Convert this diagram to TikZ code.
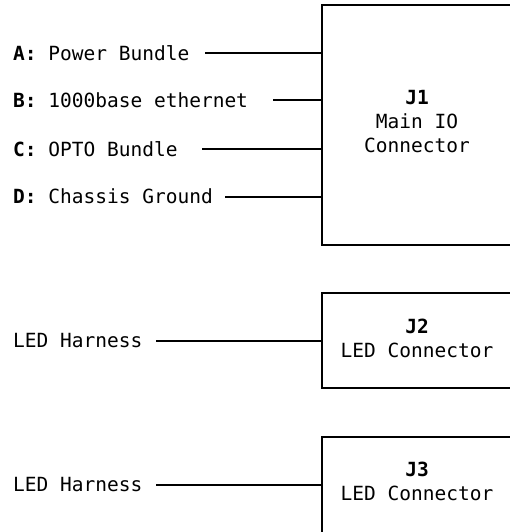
\documentclass[tikz,border=0pt]{standalone}
\usepackage{fontspec}
\setmonofont{DejaVu Sans Mono}
\begin{document}
\begin{tikzpicture}[x=1pt,y=-1pt,
  lbl/.style={anchor=west,inner sep=0pt,font=\ttfamily\fontsize{19.5}{24}\selectfont},
  ctext/.style={align=center,inner sep=0pt,font=\ttfamily\fontsize{19.5}{24}\selectfont},
  conn/.style={draw,line width=2.2pt,minimum width=190pt,inner sep=0pt},
  wire/.style={line width=2.2pt}]
\useasboundingbox (0,0) rectangle (510,532);
\clip (0,0) rectangle (510,532);
\fill[white] (0,0) rectangle (510,532);
% boxes
\node[conn,minimum height=240pt] (j1) at (417,125) {};
\node[conn,minimum height=95pt] (j2) at (417,340.5) {};
\node[conn,minimum height=105pt] (j3) at (417,489.5) {};
% box texts
\node[ctext] (j1t) at (417,122) {\textbf{J1}\\Main IO\\Connector};
\node[ctext] (j2t) at (417,338.5) {\textbf{J2}\\LED Connector};
\node[ctext] (j3t) at (417,481.5) {\textbf{J3}\\LED Connector};
% labels
\node[lbl] (la) at (13,52.7) {\textbf{A:} Power Bundle};
\node[lbl] (lb) at (13,100) {\textbf{B:} 1000base ethernet};
\node[lbl] (lc) at (13,149) {\textbf{C:} OPTO Bundle};
\node[lbl] (ld) at (13,196.7) {\textbf{D:} Chassis Ground};
\node[lbl] (le) at (13,341) {LED Harness};
\node[lbl] (lf) at (13,485) {LED Harness};
% wire starts
\coordinate (a0) at (205,52.7);
\coordinate (b0) at (273,100);
\coordinate (c0) at (202,149);
\coordinate (d0) at (225,196.7);
\coordinate (e0) at (156,341);
\coordinate (f0) at (156,485);
\draw[wire] (a0) -- (a0 -| j1.west);
\draw[wire] (b0) -- (b0 -| j1.west);
\draw[wire] (c0) -- (c0 -| j1.west);
\draw[wire] (d0) -- (d0 -| j1.west);
\draw[wire] (e0) -- (e0 -| j2.west);
\draw[wire] (f0) -- (f0 -| j3.west);
\end{tikzpicture}
\end{document}
